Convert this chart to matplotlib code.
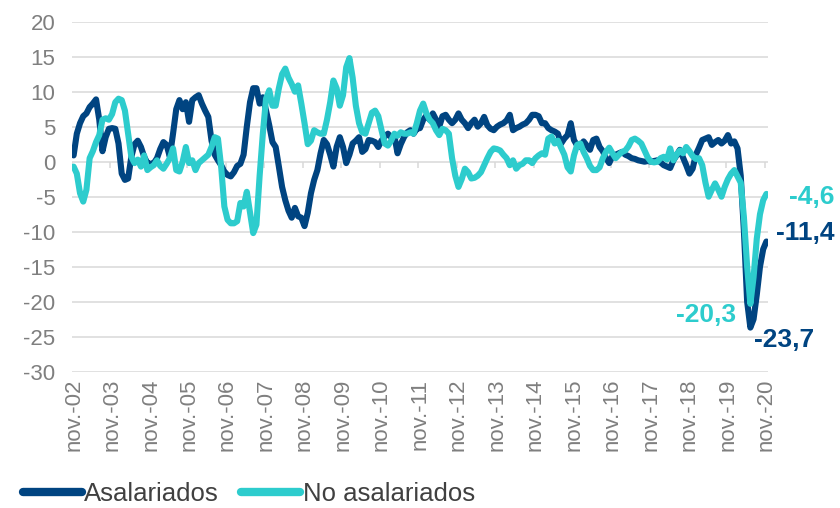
import numpy as np
import matplotlib
matplotlib.use("Agg")
import matplotlib.pyplot as plt

# monthly data, nov-2002 .. nov-2020 (217 points)
asalariados = [
    0.9, 4.0, 5.5, 6.5, 6.9, 7.8, 8.3, 8.9, 6.0, 1.5,
    3.5, 4.7, 4.8, 4.7, 2.6, -1.7, -2.6, -2.4, 0.7, 2.5,
    3.0, 2.1, 0.7, -0.2, -0.3, -0.2, 0.5, 1.8, 2.8, 2.4,
    0.7, 4.0, 7.5, 8.8, 7.5, 8.5, 5.7, 8.8, 9.2, 9.5,
    8.3, 7.3, 6.4, 3.0, 1.0, 0.2, -0.5, -1.4, -1.9, -2.1,
    -1.5, -0.6, -0.3, 1.0, 5.0, 8.5, 10.5, 10.5, 8.3, 9.2,
    7.3, 5.2, 2.8, 2.1, -0.7, -3.6, -5.5, -7.0, -8.0, -6.6,
    -7.8, -8.0, -9.2, -7.3, -4.5, -2.6, -1.2, 1.2, 3.1, 2.5,
    1.0, -0.7, 2.1, 3.5, 2.1, -0.2, 1.0, 2.6, 3.0, 3.5,
    1.4, 1.8, 3.1, 3.0, 2.8, 2.1, 3.0, 3.6, 4.0, 3.5,
    3.7, 1.2, 2.5, 3.5, 4.2, 4.5, 4.0, 4.7, 4.8, 6.0,
    6.6, 6.0, 6.9, 6.0, 5.0, 6.5, 6.7, 6.0, 5.5, 6.0,
    6.9, 6.0, 5.5, 4.8, 5.5, 6.0, 5.0, 5.5, 6.4, 5.2,
    4.7, 4.5, 5.0, 5.3, 5.5, 5.9, 6.7, 4.5, 4.8, 5.0,
    5.3, 5.5, 6.0, 6.7, 6.7, 6.5, 5.5, 5.5, 4.8, 4.5,
    4.3, 4.0, 2.6, 3.3, 3.8, 5.5, 3.1, 2.3, 2.1, 2.9,
    2.3, 1.7, 3.1, 3.3, 2.1, 1.5, 0.5, -0.2, 0.8, 1.0,
    1.2, 1.4, 1.0, 0.8, 0.5, 0.4, 0.2, 0.1, 0.0, 0.1,
    0.0, 0.1, 0.2, -0.1, -0.5, -0.7, -0.9, 0.2, 0.9, 1.7,
    0.6, -0.5, -1.7, -1.0, 1.0, 2.0, 3.1, 3.3, 3.5, 2.4,
    2.8, 3.1, 2.6, 3.0, 3.8, 2.6, 2.9, 1.9, -2.0, -10.0,
    -20.0, -23.7, -22.5, -19.0, -15.0, -12.5, -11.4,
]
no_asalariados = [
    -0.7, -1.7, -4.5, -5.7, -4.0, 0.5, 1.5, 2.8, 3.8, 6.0,
    6.2, 6.0, 6.8, 8.5, 9.0, 8.8, 7.3, 4.0, 0.7, -0.2,
    0.3, -0.7, 0.9, -1.2, -0.8, -0.5, 0.2, -0.6, -1.0, -0.3,
    0.5, 1.9, -1.2, -1.4, 0.0, 2.1, -0.2, 0.2, -1.2, -0.2,
    0.2, 0.6, 1.0, 2.1, 3.5, 3.3, -0.7, -6.4, -8.3, -8.8,
    -8.8, -8.5, -5.9, -6.4, -4.3, -7.3, -10.2, -9.0, -2.0, 4.0,
    9.0, 10.2, 8.0, 8.0, 10.5, 12.5, 13.3, 12.0, 11.1, 10.0,
    10.9, 8.3, 5.5, 2.5, 3.0, 4.5, 4.2, 4.0, 4.0, 6.0,
    8.5, 11.6, 10.5, 8.0, 9.5, 13.5, 14.8, 12.0, 8.0, 5.5,
    4.2, 4.0, 5.5, 7.0, 7.3, 6.5, 4.5, 2.6, 2.3, 3.0,
    4.0, 3.7, 4.2, 4.0, 4.0, 4.2, 4.0, 5.5, 7.3, 8.3,
    6.9, 6.0, 5.5, 4.5, 3.8, 4.7, 4.5, 4.0, 0.5, -2.0,
    -3.6, -2.5, -1.0, -1.5, -2.4, -2.3, -2.0, -1.5, -0.5, 0.5,
    1.4, 1.9, 1.8, 1.6, 1.0, 0.5, -0.5, 0.2, -1.0, -0.5,
    -0.3, 0.2, 0.2, -0.2, 0.5, 0.9, 1.2, 1.0, 3.3, 3.6,
    2.6, 3.0, 2.0, 1.0, -0.8, -1.4, 0.9, 2.4, 2.6, 1.4,
    0.5, -0.6, -1.2, -1.2, -0.8, 0.5, 1.4, 2.0, 1.2, 0.5,
    1.0, 1.4, 1.6, 2.2, 3.1, 3.3, 3.0, 2.6, 1.6, 0.6,
    0.0, -0.1, 0.0, 0.5, 0.7, 0.3, 1.9, 0.2, 1.0, 1.6,
    1.2, 2.1, 1.5, 0.8, 0.4, 0.5, -0.5, -3.0, -5.0, -4.0,
    -3.1, -4.0, -5.0, -3.6, -2.5, -1.7, -1.2, -2.1, -3.0, -8.0,
    -15.0, -20.3, -16.5, -11.0, -7.5, -5.5, -4.6,
]
year_labels = ["nov.-%02d" % y for y in range(2, 21)]
y_ticks = list(range(-30, 25, 5))

DARK = "#004481"
AQUA = "#2DCCCD"
GREY = "#7F7F7F"

plt.rcParams["font.family"] = ["Liberation Sans", "DejaVu Sans"]

fig = plt.figure(figsize=(8.4, 5.08), dpi=100)
ax = fig.add_axes([72 / 840, 1 - 371.7 / 508, 696 / 840, 350 / 508])

x = np.arange(len(asalariados))
ax.plot(x, asalariados, color=DARK, lw=4.4, solid_joinstyle="round",
        solid_capstyle="round", label="Asalariados", zorder=3)
ax.plot(x, no_asalariados, color=AQUA, lw=4.4, solid_joinstyle="round",
        solid_capstyle="round", label="No asalariados", zorder=3)

ax.set_xlim(-0.5, len(x) - 0.5)
ax.set_ylim(-30, 20)
ax.set_yticks(y_ticks)
ax.set_yticklabels([str(v) for v in y_ticks])
for v in y_ticks:
    ax.axhline(v, color="#D9D9D9", lw=1.1, zorder=1)

label_pos = np.arange(0, len(x), 12)
ax.set_xticks(label_pos)
ax.set_xticklabels(year_labels, rotation=90, va="top", ha="center")
# small tick marks on the zero line between years
ax.vlines(label_pos - 0.5, -0.9, 0, color="#D9D9D9", lw=1.1, zorder=1)

ax.tick_params(axis="both", length=0, labelsize=16, colors=GREY)
ax.tick_params(axis="y", pad=12)
ax.tick_params(axis="x", pad=5)
for s in ax.spines.values():
    s.set_visible(False)

# end / trough labels
ax.text(230, -5.0, "-4,6", color=AQUA, fontsize=19, fontweight="bold",
        ha="center", va="center", clip_on=False)
ax.text(228, -10.2, "-11,4", color=DARK, fontsize=19, fontweight="bold",
        ha="center", va="center", clip_on=False)
ax.text(197.3, -21.9, "-20,3", color=AQUA, fontsize=19, fontweight="bold",
        ha="center", va="center", clip_on=False)
ax.text(221.6, -25.5, "-23,7", color=DARK, fontsize=19, fontweight="bold",
        ha="center", va="center", clip_on=False)

leg = fig.legend(loc="center left", bbox_to_anchor=(0.027, 1 - 494 / 508),
                 ncol=2, frameon=False, fontsize=18.5, handlelength=2.3,
                 handletextpad=0.1, columnspacing=0.85, borderaxespad=0,
                 borderpad=0)
for h in leg.get_lines():
    h.set_linewidth(6)
for t in leg.get_texts():
    t.set_color("#404040")

fig.savefig("out.png", dpi=100)
